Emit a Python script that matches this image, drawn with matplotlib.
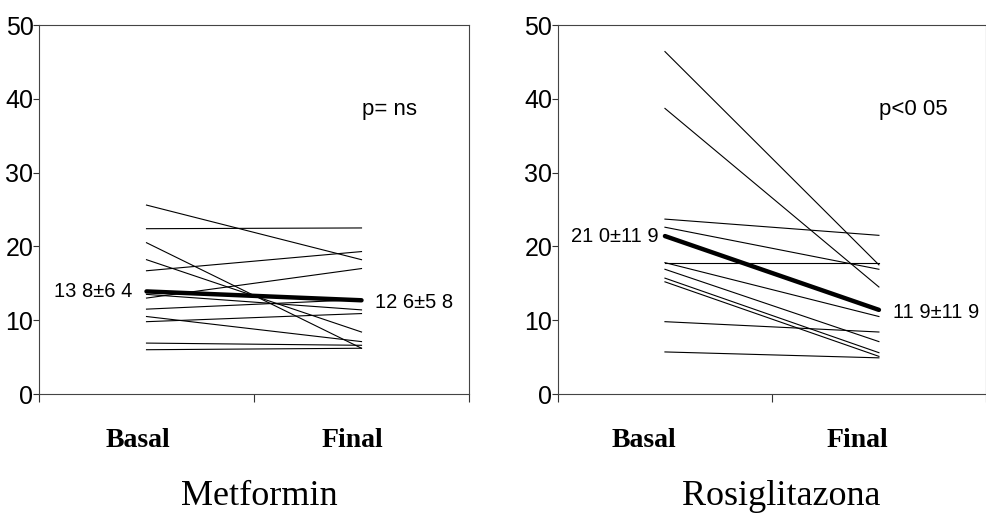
import matplotlib.pyplot as plt

# valores (Basal -> Final)
met_basal = [25.6, 22.4, 20.5, 18.2, 16.7, 13.5, 13.0, 11.5, 10.5, 9.8, 6.9, 6.0]
met_final = [18.2, 22.5, 6.2, 8.4, 19.3, 11.4, 17.0, 12.8, 7.1, 10.9, 6.6, 6.2]
met_media = [13.9, 12.7]

rosi_basal = [46.4, 38.7, 23.7, 22.6, 17.8, 17.8, 16.9, 15.7, 15.2, 9.8, 5.7]
rosi_final = [17.5, 14.5, 21.5, 16.9, 17.8, 10.5, 7.1, 5.6, 5.1, 8.4, 4.9]
rosi_media = [21.4, 11.4]

x_pos = [1, 3]
yticks = [0, 10, 20, 30, 40, 50]

fig = plt.figure(figsize=(9.87, 5.22), dpi=100)
ax1 = fig.add_axes([0.0395, 0.2452, 0.4357, 0.7069])
ax2 = fig.add_axes([0.5653, 0.2452, 0.4336, 0.7069])

paneles = [
    (ax1, met_basal, met_final, met_media, '13 8±6 4', '12 6±5 8', 'p= ns',
     0.87, 3.13, [0.92, 2.92]),
    (ax2, rosi_basal, rosi_final, rosi_media, '21 0±11 9', '11 9±11 9', 'p<0 05',
     0.94, 3.13, [0.80, 2.80]),
]

for ax, basal, final, media, txt_b, txt_f, txt_p, xb, xf, xlab in paneles:
    for b, f in zip(basal, final):
        ax.plot(x_pos, [b, f], color='black', lw=0.8)
    ax.plot(x_pos, media, color='black', lw=3.2, solid_capstyle='round')

    ax.text(xb, media[0], txt_b, ha='right', va='center', fontsize=14.5,
            family='Liberation Sans')
    ax.text(xf, media[1] - 0.3, txt_f, ha='left', va='center', fontsize=14.5,
            family='Liberation Sans')
    ax.text(3.0, 38.5, txt_p, ha='left', va='center', fontsize=16,
            family='Liberation Sans')

    for xl, lab in zip(xlab, ['Basal', 'Final']):
        ax.text(xl, -0.125, lab, transform=ax.get_xaxis_transform(), ha='center',
                va='center', fontsize=20, fontweight='bold', family='Liberation Serif')

    ax.set_xlim(0, 4)
    ax.set_ylim(0, 50)
    ax.set_xticks([0, 2, 4])
    ax.set_xticklabels([])
    ax.set_yticks(yticks)
    ax.set_yticklabels([str(v) for v in yticks], fontsize=18, family='Liberation Sans')
    ax.tick_params(axis='x', direction='out', length=6, width=0.8, color='#333333')
    ax.tick_params(axis='y', direction='out', length=4, width=0.8, color='#333333', pad=0)
    for s in ax.spines.values():
        s.set_color('#444444')
        s.set_linewidth(0.8)

fig.text(0.263, 0.048, 'Metformin', ha='center', va='center', fontsize=26,
         family='Liberation Serif')
fig.text(0.791, 0.048, 'Rosiglitazona', ha='center', va='center', fontsize=26,
         family='Liberation Serif')

fig.savefig('out.png', dpi=100)
